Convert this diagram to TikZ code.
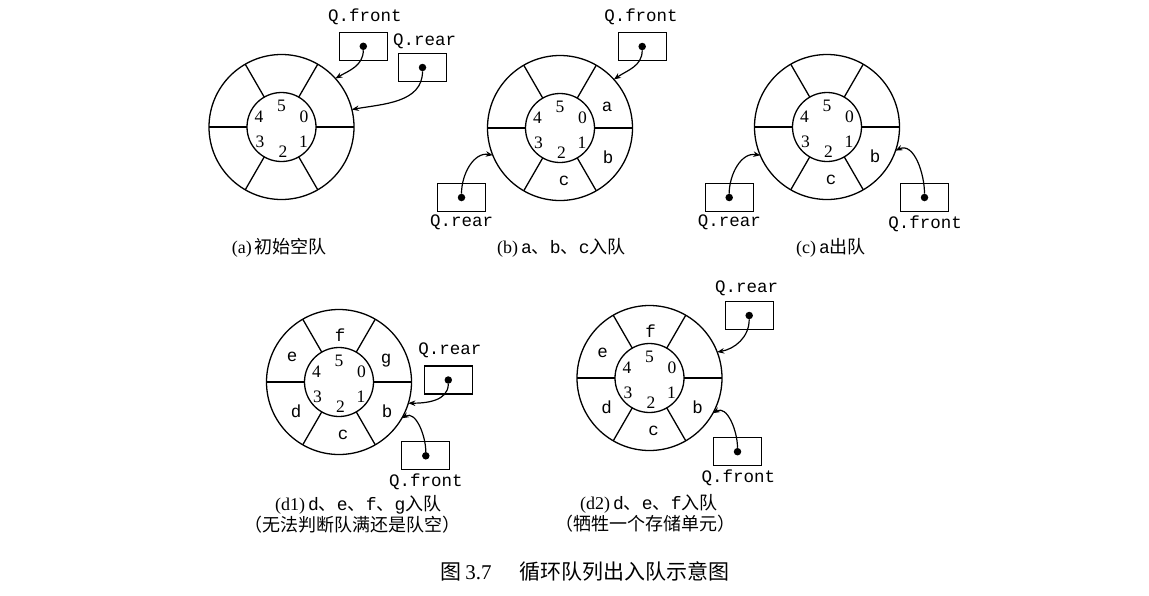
\documentclass[tikz,border=0pt]{standalone}
\usepackage{fontspec}
\setmainfont{Liberation Serif}
\setmonofont{Liberation Mono}
\newfontfamily\cjk{Noto Sans CJK SC}
\usetikzlibrary{arrows.meta,calc}
\tikzset{
 outerc/.style={circle,draw,line width=1.3pt,minimum size=145pt,inner sep=0pt,outer sep=0pt},
 innerc/.style={circle,draw,line width=1.3pt,minimum size=69pt,inner sep=0pt,outer sep=0pt},
 spoke/.style={line width=1.3pt},
 num/.style={font=\fontsize{17.5}{19}\selectfont,inner sep=0pt},
 elem/.style={font=\ttfamily\fontsize{17.5}{19}\selectfont,inner sep=0pt},
 ptrbox/.style={draw,line width=1.3pt,minimum width=48pt,minimum height=28pt,inner sep=0pt},
 pdot/.style={circle,fill,minimum size=7.5pt,inner sep=0pt},
 ptrlabel/.style={font=\ttfamily\fontsize{17.5}{19}\selectfont,inner sep=0pt},
 ptr/.style={line width=1.2pt,-{Stealth[length=7pt,width=5.5pt]}},
 captext/.style={font=\fontsize{18}{20}\selectfont,inner sep=0pt,anchor=west},
}
\newcommand\tl[1]{{\ttfamily #1}}
\newcommand\dn{{\cjk 、}}
\newcommand\myring[2]{% name, center coordinate name
 \node[outerc] (o#1) at (#2) {};
 \node[innerc] (i#1) at (#2) {};
 \foreach \a in {0,60,...,300} \draw[spoke] (i#1.\a) -- (o#1.\a);
 \node[num] (#1n5) at ($(#2)+(0,-21)$) {5};
 \node[num] (#1n0) at ($(#2)+(22.5,-10.5)$) {0};
 \node[num] (#1n1) at ($(#2)+(22,15)$) {1};
 \node[num] (#1n2) at ($(#2)+(1.5,25)$) {2};
 \node[num] (#1n3) at ($(#2)+(-21.5,14.5)$) {3};
 \node[num] (#1n4) at ($(#2)+(-22.5,-10.5)$) {4};
}
\begin{document}
\begin{tikzpicture}[x=1pt,y=-1pt]
\useasboundingbox (0,0) rectangle (1149,595);
\coordinate (ca) at (281.5,127);
\coordinate (cb) at (560,128);
\coordinate (cc) at (827,127);
\coordinate (cd) at (339,382);
\coordinate (ce) at (649.5,378);
\myring{a}{ca}
\myring{b}{cb}
\myring{c}{cc}
\myring{d}{cd}
\myring{e}{ce}
% elements
\node[elem] (bA) at ($(cb)+(47,-21)$) {a};
\node[elem] (bB) at ($(cb)+(48,29)$) {b};
\node[elem] (bC) at ($(cb)+(4,53)$) {c};
\node[elem] (cB) at ($(cc)+(48,29)$) {b};
\node[elem] (cC) at ($(cc)+(4,53)$) {c};
\node[elem] (dG) at ($(cd)+(47,-21)$) {g};
\node[elem] (dB) at ($(cd)+(48,29)$) {b};
\node[elem] (dC) at ($(cd)+(4,53)$) {c};
\node[elem] (dD) at ($(cd)+(-43,29)$) {d};
\node[elem] (dE) at ($(cd)+(-47,-25)$) {e};
\node[elem] (dF) at ($(cd)+(1,-47)$) {f};
\node[elem] (eB) at ($(ce)+(48,29)$) {b};
\node[elem] (eC) at ($(ce)+(4,53)$) {c};
\node[elem] (eD) at ($(ce)+(-43,29)$) {d};
\node[elem] (eE) at ($(ce)+(-47,-25)$) {e};
\node[elem] (eF) at ($(ce)+(1,-47)$) {f};
% pointer boxes (a)
\node[ptrbox] (afb) at (363.3,46.3) {};
\node[pdot] (afd) at (afb.center) {};
\node[ptrlabel] (afl) at (365,17.3) {Q.front};
\node[ptrbox] (arb) at (422.5,67.5) {};
\node[pdot] (ard) at (arb.center) {};
\node[ptrlabel] (arl) at (424.7,41.7) {Q.rear};
\draw[ptr] (afd) to[out=-90,in=30] (oa.42);
\draw[ptr] (ard) to[out=-90,in=10] (oa.14.5);
% (b)
\node[ptrbox] (bfb) at (642.2,46.5) {};
\node[pdot] (bfd) at (bfb.center) {};
\node[ptrlabel] (bfl) at (641,17.3) {Q.front};
\node[ptrbox] (brb) at (461.5,197.5) {};
\node[pdot] (brd) at (brb.center) {};
\node[ptrlabel] (brl) at (461.7,222.7) {Q.rear};
\draw[ptr] (bfd) to[out=-90,in=35] (ob.42);
\draw[ptr] (brd) to[out=90,in=170] (ob.202);
% (c)
\node[ptrbox] (crb) at (729.2,197.5) {};
\node[pdot] (crd) at (crb.center) {};
\node[ptrlabel] (crl) at (729.3,222.7) {Q.rear};
\node[ptrbox] (cfb) at (924.5,197.5) {};
\node[pdot] (cfd) at (cfb.center) {};
\node[ptrlabel] (cfl) at (925,224.3) {Q.front};
\draw[ptr] (crd) to[out=90,in=170] (oc.203.6);
\draw[ptr] (cfd) to[out=90,in=25] (oc.-19.5);
% (d1)
\node[ptrbox] (drb) at (448.3,380) {};
\node[pdot] (drd) at (drb.center) {};
\node[ptrlabel] (drl) at (450,350) {Q.rear};
\node[ptrbox] (dfb) at (425.8,455.8) {};
\node[pdot] (dfd) at (dfb.center) {};
\node[ptrlabel] (dfl) at (426,481.7) {Q.front};
\draw[ptr] (drd) to[out=-90,in=0] (od.-17.4);
\draw[ptr] (dfd) to[out=90,in=30] (od.-30);
% (d2)
\node[ptrbox] (erb) at (749.2,315.5) {};
\node[pdot] (erd) at (erb.center) {};
\node[ptrlabel] (erl) at (746.7,288.3) {Q.rear};
\node[ptrbox] (efb) at (737.5,451.7) {};
\node[pdot] (efd) at (efb.center) {};
\node[ptrlabel] (efl) at (738.3,478.3) {Q.front};
\draw[ptr] (erd) to[out=-90,in=10] (oe.21.7);
\draw[ptr] (efd) to[out=90,in=30] (oe.-29.5);
% captions
\node[captext] (capa) at (231.7,248) {(a)\,{\cjk 初始空队}};
\node[captext] (capb) at (497,248) {(b)\,\tl{a}\dn\tl{b}\dn\tl{c}{\cjk 入队}};
\node[captext] (capc) at (796,248) {(c)\,\tl{a}{\cjk 出队}};
\node[captext] (capd1) at (275,505) {(d1)\,\tl{d}\dn\tl{e}\dn\tl{f}\dn\tl{g}{\cjk 入队}};
\node[captext] (capd1b) at (244,525) {{\cjk （无法判断队满还是队空）}};
\node[captext] (capd2) at (580,504) {(d2)\,\tl{d}\dn\tl{e}\dn\tl{f}{\cjk 入队}};
\node[captext] (capd2b) at (555,524) {{\cjk （牺牲一个存储单元）}};
\node[captext,font=\fontsize{21}{23}\selectfont] (capfig) at (440.7,572) {{\cjk 图}\,3.7\hspace{28pt}{\cjk 循环队列出入队示意图}};
\end{tikzpicture}
\end{document}
